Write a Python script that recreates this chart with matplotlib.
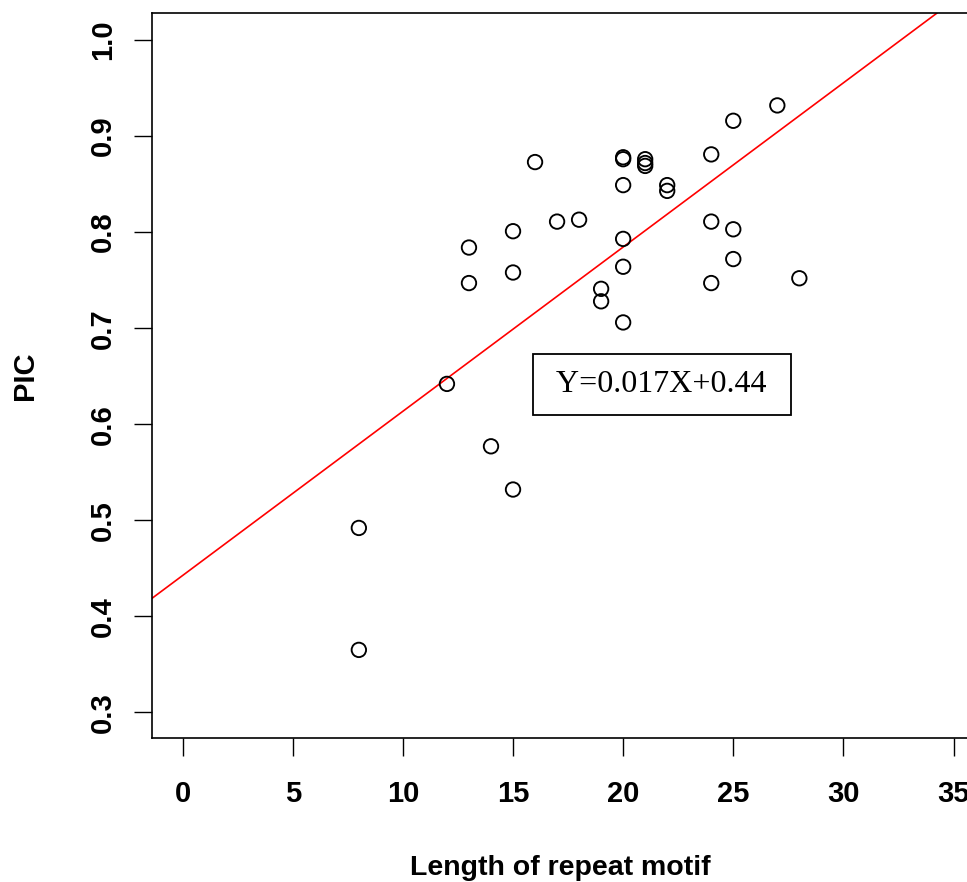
import matplotlib
matplotlib.use("Agg")
import matplotlib.pyplot as plt
import numpy as np

# Data
motif_length = [16, 20, 20, 21, 21, 21, 22, 22, 20, 24, 25, 27, 17, 18, 15, 13,
                20, 24, 25, 25, 20, 15, 13, 24, 28, 19, 19, 20, 12, 14, 15, 8, 8]
pic = [0.873, 0.878, 0.876, 0.876, 0.872, 0.869, 0.849, 0.843, 0.849, 0.881,
       0.916, 0.932, 0.811, 0.813, 0.801, 0.784, 0.793, 0.811, 0.803, 0.772,
       0.764, 0.758, 0.747, 0.747, 0.752, 0.741, 0.728, 0.706, 0.642, 0.577,
       0.532, 0.492, 0.365]
fit_intercept = 0.4425
fit_slope = 0.0171
equation_label = "Y=0.017X+0.44"
x_ticks = [0, 5, 10, 15, 20, 25, 30, 35]
y_ticks = [0.3, 0.4, 0.5, 0.6, 0.7, 0.8, 0.9, 1.0]

plt.rcParams['font.family'] = ['Liberation Sans', 'DejaVu Sans']

fig = plt.figure(figsize=(9.67, 8.82), dpi=100)
ax = fig.add_axes([0.157, 0.163, 0.845, 0.822])

ax.scatter(motif_length, pic, s=108, facecolors='none', edgecolors='black',
           linewidths=1.35, zorder=3)
ax.axline((0, fit_intercept), slope=fit_slope, color='red', lw=1.2, zorder=2)

ax.set_xlim(-1.4, 35.7)
ax.set_ylim(0.273, 1.028)
ax.set_xticks(x_ticks)
ax.set_xticklabels([str(v) for v in x_ticks], fontweight='bold')
ax.set_yticks(y_ticks)
ax.set_yticklabels([f"{v:.1f}" for v in y_ticks], rotation=90, va='center',
                   fontweight='bold')

for s in ax.spines.values():
    s.set_linewidth(1.2)
ax.tick_params(axis='both', direction='out', length=13, width=1.0,
               labelsize=21)
ax.tick_params(axis='x', pad=17)
ax.tick_params(axis='y', pad=12)

ax.set_xlabel("Length of repeat motif", fontsize=20.5, fontweight='bold',
              labelpad=34)
ax.set_ylabel("PIC", fontsize=21, fontweight='bold', labelpad=36)

ax.text(21.77, 0.641, " " + equation_label + " ", fontsize=23,
        family='Liberation Serif', ha='center', va='center',
        bbox=dict(boxstyle='square,pad=0.5', facecolor='white',
                  edgecolor='black', linewidth=1.3))

fig.savefig("out.png", dpi=100)
